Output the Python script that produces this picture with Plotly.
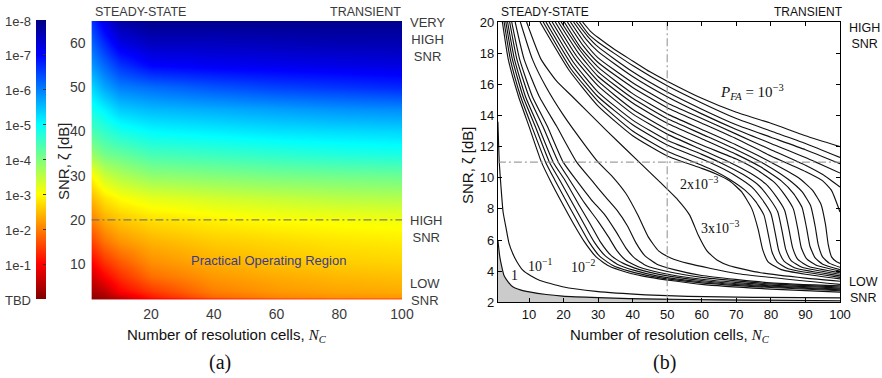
import plotly.graph_objects as go

# ---------------- Panel (a) data: heat map of log10(P) level (0 = TBD ... 8 = 1e-8)
heat_nc = [1, 5, 10, 20, 40, 60, 80, 100]
heat_snr = [2, 2.6, 4, 7, 10, 15, 20, 25, 30, 35, 40, 45, 50, 55, 60, 65]
heat_level = [
    [0.05, 0.15, 0.3, 0.7, 0.9, 1.1, 1.2, 1.2],
    [0.15, 0.3, 0.6, 1.2, 1.8, 2.05, 2.15, 2.2],
    [0.3, 0.5, 1.0, 1.45, 2.0, 2.2, 2.3, 2.35],
    [0.6, 1.0, 1.35, 1.85, 2.2, 2.35, 2.45, 2.5],
    [0.95, 1.35, 1.65, 2.1, 2.35, 2.5, 2.6, 2.65],
    [1.5, 1.9, 2.15, 2.4, 2.6, 2.7, 2.8, 2.85],
    [2.0, 2.35, 2.55, 2.75, 2.9, 3.0, 3.05, 3.1],
    [2.45, 2.8, 3.0, 3.2, 3.35, 3.45, 3.55, 3.6],
    [2.95, 3.4, 3.6, 3.85, 3.95, 4.05, 4.1, 4.15],
    [3.8, 4.1, 4.2, 4.45, 4.55, 4.65, 4.75, 4.8],
    [4.4, 4.6, 4.8, 5.0, 5.1, 5.2, 5.25, 5.3],
    [4.85, 5.1, 5.4, 5.55, 5.65, 5.75, 5.85, 5.9],
    [5.3, 5.7, 6.0, 6.15, 6.35, 6.5, 6.6, 6.7],
    [5.8, 6.2, 6.6, 7.0, 7.1, 7.15, 7.2, 7.25],
    [6.2, 6.7, 7.2, 7.5, 7.5, 7.55, 7.6, 7.6],
    [6.6, 7.2, 7.7, 7.9, 7.9, 7.9, 7.9, 7.9],
]
cbar_tickvals = [0, 1, 2, 3, 4, 5, 6, 7, 8]
cbar_ticktext = ["TBD", "1e-1", "1e-2", "1e-3", "1e-4", "1e-5", "1e-6", "1e-7", "1e-8"]
ref_snr_a = 20
a_xticks = [20, 40, 60, 80, 100]
a_yticks = [10, 20, 30, 40, 50, 60]

# ---------------- Panel (b) data: SNR curves vs N_C
pfa1_x = [1, 1.5, 2, 2.8, 4, 5.3, 7.5, 10.1, 15, 19.7, 30, 39, 56, 75, 100]
pfa1_y = [6.0, 5.0, 4.4, 3.7, 3.3, 3.0, 2.8, 2.67, 2.5, 2.4, 2.3, 2.24, 2.18, 2.14, 2.1]

pfa01_x = [1, 1.4, 1.9, 2.5, 3.3, 4.2, 5.3, 6.5, 8.2, 10.5, 13, 19.7, 29.4, 43.8, 56, 75, 100]
pfa01_y = [13.6, 11.0, 9.4, 7.8, 6.84, 5.8, 5.13, 4.6, 4.06, 3.7, 3.42, 3.0, 2.7, 2.48, 2.38, 2.32, 2.28]

steep_x = [
    [2.3, 4.0, 7.0, 10, 13.6, 16.1, 20, 23, 26, 29.5, 33, 38, 45, 60, 80, 100],
    [2.8, 4.6, 7.6, 10.8, 14.8, 17.5, 21.5, 24.5, 27.3, 30.5, 34, 39, 46, 60, 80, 100],
    [3.3, 5.2, 8.3, 11.8, 15.9, 18.9, 23, 26, 28.8, 32, 35.5, 40.5, 47, 60, 80, 100],
    [3.8, 5.8, 9, 12.7, 17, 20.4, 24.6, 27.8, 30.6, 33.8, 37.3, 42, 48, 60, 80, 100],
    [4.4, 6.5, 10, 14, 18.5, 21.8, 26, 30, 33, 35.5, 38, 42, 48, 60, 80, 100],
    [5.0, 7.3, 11, 15.3, 19.9, 23.7, 28, 32, 35, 38, 40.5, 44, 50, 60, 80, 100],
    [6.0, 8.6, 13, 18, 23.8, 28.1, 32, 35.5, 38.5, 41, 43.5, 47, 52, 60, 80, 100],
]
steep_y = [
    [20, 17.6, 15.2, 13.3, 11.0, 9.84, 8.2, 7.0, 5.9, 4.9, 4.35, 3.95, 3.6, 3.15, 2.85, 2.65],
    [20, 17.6, 15.2, 13.3, 11.0, 9.84, 8.2, 7.0, 5.9, 4.95, 4.4, 4.0, 3.65, 3.25, 2.95, 2.74],
    [20, 17.6, 15.2, 13.3, 11.0, 9.84, 8.2, 7.0, 5.9, 5.0, 4.45, 4.05, 3.7, 3.32, 3.0, 2.8],
    [20, 17.6, 15.2, 13.3, 11.0, 9.84, 8.2, 7.0, 5.9, 5.0, 4.5, 4.1, 3.78, 3.4, 3.05, 2.86],
    [20, 17.6, 15.2, 13.3, 11.0, 9.84, 8.4, 7.2, 6.2, 5.3, 4.7, 4.25, 3.9, 3.48, 3.1, 2.92],
    [20, 17.6, 15.2, 13.3, 11.0, 9.84, 8.6, 7.6, 6.6, 5.5, 4.85, 4.35, 3.98, 3.6, 3.18, 2.98],
    [20, 17.6, 15.2, 13.3, 11.0, 9.84, 8.8, 7.9, 6.9, 5.8, 5.0, 4.45, 4.1, 3.72, 3.25, 3.05],
]

mid2_x = [7.5, 11, 14.9, 20, 26.5, 30, 34.2, 38, 41.5, 44.5, 47.5, 51, 56, 70, 100]
mid2_y = [20, 17.6, 15.84, 14.0, 12.0, 11.0, 10.06, 9.0, 7.6, 6.2, 5.3, 4.85, 4.5, 3.85, 3.15]

pfa3e3_x = [9.3, 13.5, 18, 22.6, 32.3, 41.9, 48, 53, 56.5, 59, 61.5, 64.5, 68, 77, 90, 100]
pfa3e3_y = [20, 17.6, 16.2, 15.2, 13.06, 11.0, 9.7, 8.6, 7.6, 6.3, 5.3, 4.7, 4.35, 3.9, 3.55, 3.35]

right_x = [
    [25.5, 27.8, 30, 35, 40, 45, 50, 60, 70, 80, 90, 100],
    [24.6, 27.3, 30, 40, 50, 60, 70, 80, 90, 100],
    [23.7, 26.9, 30, 40, 50, 60, 70, 80, 90, 100],
    [22.9, 26.5, 30, 40, 50, 60, 70, 80, 90, 100],
    [22.0, 26.0, 30, 40, 50, 60, 70, 80, 90, 95, 100],
    [21.1, 25.6, 30, 40, 50, 60, 70, 80, 90, 95, 97.5, 100],
    [20.2, 25.1, 30, 40, 50, 60, 70, 80, 88, 92, 94.5, 95.8, 96.6, 97.6, 99, 100],
    [19.3, 24.7, 30, 40, 50, 60, 70, 78, 85, 89, 91.5, 92.8, 93.7, 95, 97, 100],
    [18.5, 24.3, 30, 40, 50, 60, 70, 77, 83, 86.5, 89, 90.3, 91.3, 92.8, 95, 100],
    [17.6, 23.8, 30, 40, 50, 60, 70, 76, 81, 84, 86.5, 87.8, 88.8, 90.3, 93, 100],
    [16.7, 23.4, 30, 40, 50, 60, 68, 74, 78.5, 81.5, 84, 85.3, 86.3, 87.8, 91, 100],
    [15.8, 22.9, 30, 40, 50, 60, 66, 72, 76.5, 79.5, 82, 83.3, 84.3, 85.8, 89, 100],
    [14.9, 22.5, 30, 40, 50, 60, 65, 70, 74.5, 77.5, 80, 81.3, 82.3, 83.8, 87, 100],
    [14.1, 22.1, 30, 40, 50, 60, 64, 68, 72.5, 75.5, 78, 79.3, 80.3, 81.8, 85, 100],
    [13.2, 21.6, 30, 40, 50, 60, 64, 68, 71.5, 74.5, 76.3, 77.6, 79.2, 83, 90, 100],
]
right_y = [
    [20, 19.4, 19.0, 18.2, 17.5, 16.8, 16.2, 15.1, 14.2, 13.5, 12.7, 12.0],
    [20, 19.2, 18.7, 17.2, 15.9, 14.8, 13.8, 13.0, 12.2, 11.3],
    [20, 19.1, 18.4, 16.8, 15.5, 14.4, 13.4, 12.6, 11.8, 10.9],
    [20, 18.9, 18.1, 16.5, 15.2, 14.1, 13.1, 12.2, 11.3, 10.3],
    [20, 18.7, 17.7, 16.1, 14.8, 13.8, 12.8, 11.8, 10.8, 10.2, 9.4],
    [20, 18.5, 17.4, 15.8, 14.5, 13.5, 12.5, 11.4, 10.4, 9.8, 9.2, 7.8],
    [20, 18.3, 17.1, 15.4, 14.1, 13.1, 12.1, 11.0, 10.0, 9.2, 8.3, 7.0, 5.7, 4.9, 4.6, 4.5],
    [20, 18.2, 16.8, 15.1, 13.8, 12.8, 11.8, 10.9, 9.9, 9.1, 8.2, 6.9, 5.7, 4.9, 4.5, 4.25],
    [20, 18.0, 16.5, 14.8, 13.5, 12.5, 11.5, 10.7, 9.8, 9.0, 8.1, 6.8, 5.6, 4.85, 4.45, 4.1],
    [20, 17.8, 16.2, 14.4, 13.1, 12.1, 11.2, 10.5, 9.7, 8.9, 8.0, 6.7, 5.5, 4.8, 4.4, 4.0],
    [20, 17.6, 15.9, 14.1, 12.8, 11.8, 11.0, 10.3, 9.6, 8.8, 7.9, 6.6, 5.5, 4.75, 4.3, 3.9],
    [20, 17.4, 15.5, 13.7, 12.4, 11.5, 10.9, 10.2, 9.5, 8.7, 7.8, 6.5, 5.4, 4.7, 4.25, 3.8],
    [20, 17.2, 15.2, 13.4, 12.1, 11.2, 10.7, 10.1, 9.4, 8.6, 7.7, 6.4, 5.3, 4.65, 4.2, 3.7],
    [20, 17.0, 14.9, 13.0, 11.7, 10.8, 10.4, 9.9, 9.2, 8.5, 7.6, 6.3, 5.25, 4.6, 4.15, 3.6],
    [20, 16.9, 14.6, 12.7, 11.4, 10.6, 10.25, 9.8, 9.1, 8.0, 6.7, 5.4, 4.6, 4.1, 3.8, 3.5],
]
ref_nc_b = 50
ref_snr_b = 11
b_xticks = [10, 20, 30, 40, 50, 60, 70, 80, 90, 100]
b_yticks = [2, 4, 6, 8, 10, 12, 14, 16, 18, 20]

W, H = 882, 378
SANS = "Liberation Sans, Arial, sans-serif"
SERIF = "Liberation Serif, Times New Roman, serif"


def px(x):
    return x / W


def py(y):
    return 1 - y / H


jet = [
    [0.0, "rgb(128,0,0)"], [0.125, "rgb(255,0,0)"], [0.375, "rgb(255,255,0)"],
    [0.625, "rgb(0,255,255)"], [0.875, "rgb(0,0,255)"], [1.0, "rgb(0,0,128)"],
]

fig = go.Figure()

fig.add_trace(go.Heatmap(
    x=heat_nc, y=heat_snr, z=heat_level, zmin=0, zmax=8, zsmooth="best",
    colorscale=jet, xaxis="x", yaxis="y", hoverinfo="skip",
    colorbar=dict(
        x=px(36), xanchor="left", y=py(20), yanchor="top", xpad=0, ypad=0,
        thickness=10, thicknessmode="pixels", len=279, lenmode="pixels",
        outlinewidth=0, tickvals=cbar_tickvals, showticklabels=False,
        ticks="inside", ticklen=3, tickcolor="#333",
    ),
))

fig.add_trace(go.Scatter(
    x=[1, 100], y=[ref_snr_a, ref_snr_a], mode="lines", xaxis="x", yaxis="y",
    line=dict(color="rgba(110,110,110,0.9)", width=1.2, dash="8px,3px,2px,3px"),
    hoverinfo="skip", showlegend=False,
))

line_style = dict(color="#111111", width=1.15, shape="spline", smoothing=0.5)

fig.add_trace(go.Scatter(x=pfa1_x, y=pfa1_y, mode="lines", fill="tozeroy",
                         fillcolor="#cbcbcb", line=line_style,
                         xaxis="x2", yaxis="y2", showlegend=False))
fig.add_trace(go.Scatter(x=pfa01_x, y=pfa01_y, mode="lines", line=line_style,
                         xaxis="x2", yaxis="y2", showlegend=False))
for xs, ys in zip(steep_x, steep_y):
    fig.add_trace(go.Scatter(x=xs, y=ys, mode="lines", line=line_style,
                             xaxis="x2", yaxis="y2", showlegend=False))
fig.add_trace(go.Scatter(x=mid2_x, y=mid2_y, mode="lines", line=line_style,
                         xaxis="x2", yaxis="y2", showlegend=False))
fig.add_trace(go.Scatter(x=pfa3e3_x, y=pfa3e3_y, mode="lines", line=line_style,
                         xaxis="x2", yaxis="y2", showlegend=False))
for xs, ys in zip(right_x, right_y):
    fig.add_trace(go.Scatter(x=xs, y=ys, mode="lines", line=line_style,
                             xaxis="x2", yaxis="y2", showlegend=False))

ref_line = dict(color="rgba(150,150,150,0.9)", width=1.2, dash="8px,3px,2px,3px")
fig.add_trace(go.Scatter(x=[ref_nc_b, ref_nc_b], y=[2, 20], mode="lines", line=ref_line,
                         xaxis="x2", yaxis="y2", showlegend=False, hoverinfo="skip"))
fig.add_trace(go.Scatter(x=[1, 100], y=[ref_snr_b, ref_snr_b], mode="lines", line=ref_line,
                         xaxis="x2", yaxis="y2", showlegend=False, hoverinfo="skip"))

a_font = dict(family=SANS, size=14, color="#3a3a3a")
b_font = dict(family=SANS, size=13, color="#111111")

fig.update_layout(
    width=W, height=H, margin=dict(l=0, r=0, t=0, b=0),
    paper_bgcolor="white", plot_bgcolor="white", showlegend=False,
    xaxis=dict(domain=[px(91.4), px(402)], range=[1, 100], tickvals=a_xticks,
               showgrid=False, zeroline=False, showline=False, ticks="outside",
               ticklen=2, tickcolor="rgba(0,0,0,0)", tickfont=a_font, automargin=False),
    yaxis=dict(domain=[py(299.4), py(20.9)], range=[2, 65], tickvals=a_yticks,
               showgrid=False, zeroline=False, showline=False, ticks="outside",
               ticklen=2, tickcolor="rgba(0,0,0,0)", tickfont=a_font, automargin=False),
    xaxis2=dict(domain=[px(497.9), px(840)], range=[1, 100], tickvals=b_xticks,
                showgrid=False, zeroline=False, showline=True, linecolor="black",
                linewidth=1, mirror="ticks", ticks="inside", ticklen=4,
                tickcolor="black", tickfont=b_font, anchor="y2", automargin=False),
    yaxis2=dict(domain=[py(302.3), py(22)], range=[2, 20], tickvals=b_yticks,
                showgrid=False, zeroline=False, showline=True, linecolor="black",
                linewidth=1, mirror="ticks", ticks="inside", ticklen=4,
                tickcolor="black", tickfont=b_font, anchor="x2", automargin=False),
)

ann = []


def add_text(x, y, text, size, color="#111", family=SANS, xanchor="center",
             yanchor="middle", angle=0, xref="paper", yref="paper"):
    ann.append(dict(x=x, y=y, xref=xref, yref=yref, text=text, showarrow=False,
                    xanchor=xanchor, yanchor=yanchor, textangle=angle,
                    font=dict(family=family, size=size, color=color)))


# colour bar labels
for v, t in zip(cbar_tickvals, cbar_ticktext):
    ypix = 299 - v * (279 / 8)
    add_text(px(33), py(ypix + 1), t, 13, "#3a3a3a", xanchor="right")

# panel (a) texts
add_text(px(93), py(12), "STEADY-STATE", 12.5, "#3a3a3a", xanchor="left")
add_text(px(403), py(12), "TRANSIENT", 12.5, "#3a3a3a", xanchor="right")
add_text(px(408), py(39.5), "VERY<br>HIGH<br>SNR", 13, "#3a3a3a", xanchor="left")
add_text(px(408), py(229), "HIGH<br>SNR", 13, "#3a3a3a", xanchor="left")
add_text(px(408), py(291.5), "LOW<br>SNR", 13, "#3a3a3a", xanchor="left")
add_text(57.3, 10.9, "Practical Operating Region", 13, "#3c3c8c", xref="x", yref="y")
add_text(px(63), py(162), "SNR, ζ [dB]", 15, "#222", angle=-90)
add_text(px(227), py(335),
         "Number of resolution cells, <span style=\"font-family:'Liberation Serif'\"><i>N</i><sub><i>C</i></sub></span>",
         15, "#111")
add_text(px(220), py(362), "(a)", 20, "#111", family=SERIF)

# panel (b) texts
add_text(px(499), py(12.5), "STEADY-STATE", 12, "#111", xanchor="left")
add_text(px(845), py(12.5), "TRANSIENT", 12, "#111", xanchor="right")
add_text(px(847), py(36), "HIGH<br>SNR", 12.5, "#111", xanchor="left")
add_text(px(847), py(290), "LOW<br>SNR", 12.5, "#111", xanchor="left")
add_text(px(467), py(165), "SNR, ζ [dB]", 15, "#111", angle=-90)
add_text(px(670), py(335),
         "Number of resolution cells, <span style=\"font-family:'Liberation Serif'\"><i>N</i><sub><i>C</i></sub></span>",
         15, "#111")
add_text(px(664), py(362), "(b)", 20, "#111", family=SERIF)

add_text(74.6, 15.5, "<i>P</i><sub><i>FA</i></sub> = 10<sup>−3</sup>", 15, "#111",
         family=SERIF, xref="x2", yref="y2")
add_text(59.4, 9.65, "2x10<sup>−3</sup>", 14, "#111", family=SERIF, xref="x2", yref="y2")
add_text(65.5, 6.84, "3x10<sup>−3</sup>", 14, "#111", family=SERIF, xref="x2", yref="y2")
add_text(25.9, 4.3, "10<sup>−2</sup>", 14, "#111", family=SERIF, xref="x2", yref="y2")
add_text(13.4, 4.4, "10<sup>−1</sup>", 14, "#111", family=SERIF, xref="x2", yref="y2")
add_text(5.9, 3.7, "1", 14, "#111", family=SERIF, xref="x2", yref="y2")

fig.update_layout(annotations=ann)

fig.write_html(
    "out.html",
    config={"displayModeBar": False},
    post_script="document.body.style.margin='0px';document.body.style.padding='0px';",
)
